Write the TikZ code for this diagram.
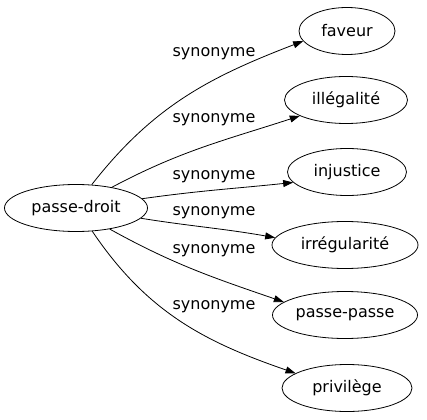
\documentclass[tikz,border=0pt]{standalone}
\usepackage{fontspec}
\setmainfont{DejaVu Sans}
\usetikzlibrary{shapes.geometric,arrows.meta}
\tikzset{
    word/.style={ellipse,draw,line width=0.8pt,inner sep=0pt,minimum height=47pt,font=\fontsize{16}{18}\selectfont},
    syn/.style={font=\fontsize{16}{18}\selectfont,inner sep=0pt},
    link/.style={line width=0.8pt,-{Triangle[length=10pt,width=7pt]}}
}
\begin{document}
\begin{tikzpicture}[x=1pt,y=-1pt]
        \useasboundingbox (0,0) rectangle (427,419);
        \node[word,minimum width=143pt] (pd) at (76,208) {passe-droit};
        \node[word,minimum width=96pt] (faveur) at (347,31) {faveur};
        \node[word,minimum width=123pt] (illegalite) at (346,100) {illégalité};
        \node[word,minimum width=119pt] (injustice) at (347,172) {injustice};
        \node[word,minimum width=146pt] (irregularite) at (345,245) {irrégularité};
        \node[word,minimum width=145pt] (passepasse) at (345,315) {passe-passe};
        \node[word,minimum width=130pt] (privilege) at (347,388) {privilège};
        % labels
        \node[syn] (s1) at (214,54) {synonyme};
        \node[syn] (s2) at (214,120) {synonyme};
        \node[syn] (s3) at (214,177) {synonyme};
        \node[syn] (s4) at (214,213) {synonyme};
        \node[syn] (s5) at (214,251) {synonyme};
        \node[syn] (s6) at (214,307) {synonyme};
        % edges
        \draw[link] (pd.56) to[out=52,in=201] (faveur.193);
        \draw[link] (pd.30) to[out=28,in=198] (illegalite.199);
        \draw[link] (pd.8) to[out=8,in=186] (injustice.191);
        \draw[link] (pd.-9) to[out=-9,in=170] (irregularite.174);
        \draw[link] (pd.-32) to[out=-29,in=161] (passepasse.168);
        \draw[link] (pd.-55) to[out=-56,in=161] (privilege.164);
\end{tikzpicture}
\end{document}
